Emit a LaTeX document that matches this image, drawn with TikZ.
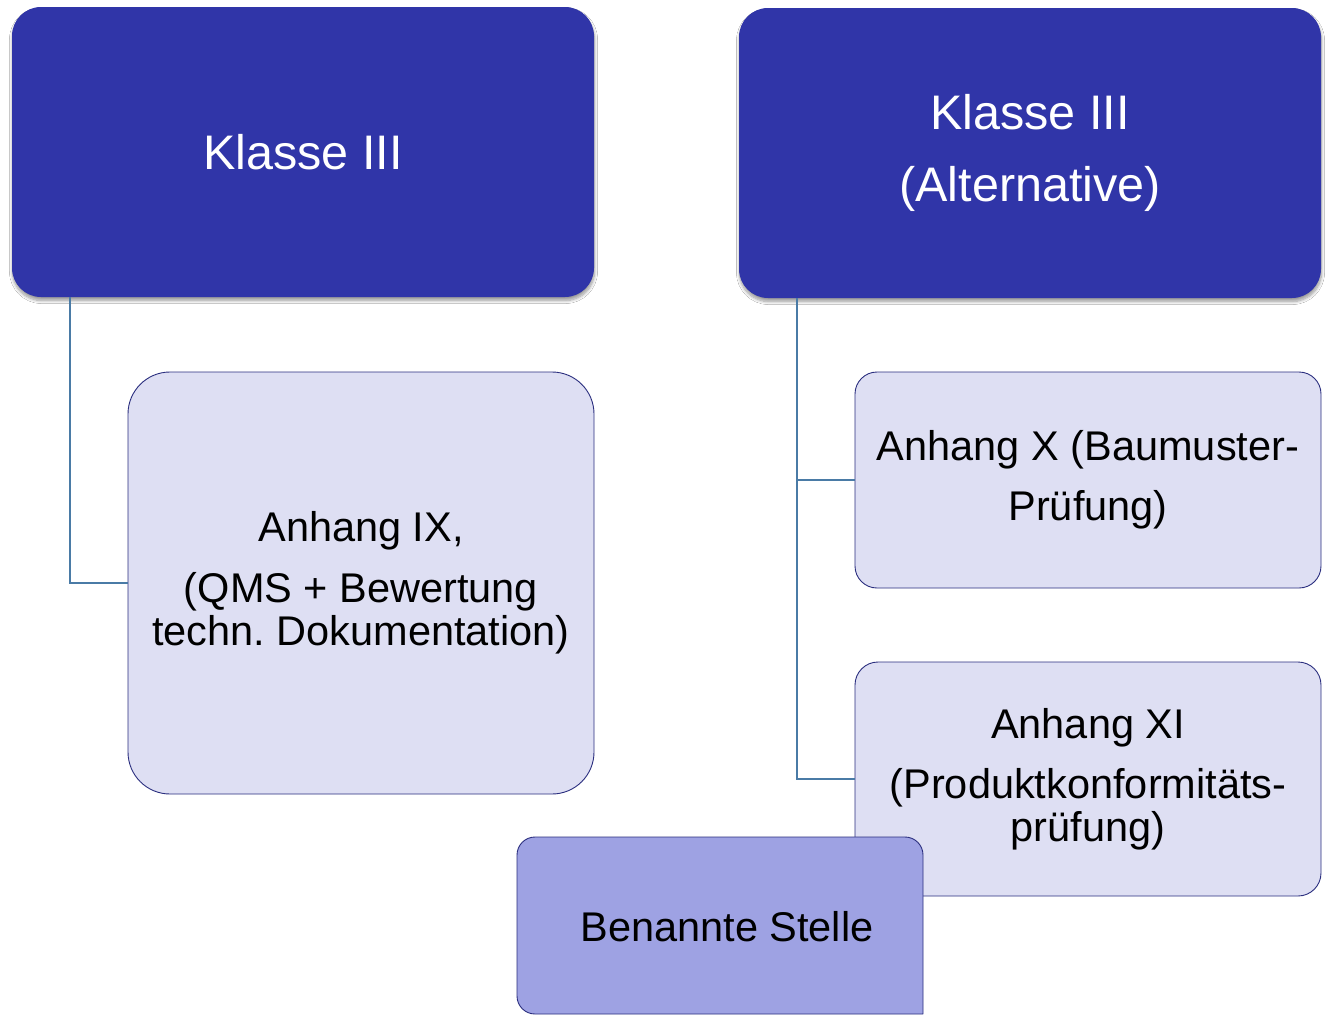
\documentclass[tikz,border=0pt]{standalone}
\usepackage{fontspec}
\setmainfont{Liberation Sans}
\frenchspacing
\usetikzlibrary{calc,shadows.blur}
\definecolor{darkbox}{HTML}{3035A8}
\definecolor{lightbox}{HTML}{DEDFF3}
\definecolor{midbox}{HTML}{9EA2E3}
\definecolor{navy}{HTML}{2B2F7F}
\definecolor{conncol}{HTML}{4A7BA6}
\tikzset{
  titlebox/.style={fill=darkbox, draw=none, text=white, align=center,
    inner sep=0pt, outer sep=0pt, minimum width=582pt, minimum height=290pt,
    rounded corners=29pt,
    font=\fontsize{48.5}{52}\selectfont,
    blur shadow={shadow xshift=0.5pt, shadow yshift=-3.5pt, shadow opacity=40, shadow blur radius=3pt, shadow blur steps=8}},
  subbox/.style={fill=lightbox, draw=navy, line width=0.9pt, text=black, align=center,
    inner sep=0pt, outer sep=0pt, font=\fontsize{41.5}{43}\selectfont},
  conn/.style={draw=conncol, line width=1.8pt},
}
\begin{document}
\begin{tikzpicture}[x=1pt,y=-1pt]
\useasboundingbox[fill=white] (0,0) rectangle (1333,1015);
\node[titlebox] (k1) at (303,152) {Klasse III};
\node[titlebox] (k2) at (1030,153) {\raisebox{-2pt}{Klasse III}\\[20pt]\raisebox{-2pt}{(Alternative)}};
\node[subbox, minimum width=466pt, minimum height=422pt, rounded corners=42pt] (a9) at (361,583)
  {Anhang IX,\\[18pt](QMS + Bewertung\\techn. Dokumentation)};
\node[subbox, minimum width=466pt, minimum height=216pt, rounded corners=22pt] (a10) at (1088,480)
  {Anhang X (Baumuster-\\[17pt]Prüfung)};
\node[subbox, minimum width=466pt, minimum height=234pt, rounded corners=23pt] (a11) at (1088,779)
  {Anhang XI\\[17pt](Produktkonformitäts-\\prüfung)};
\draw[conn] ($(k1.south west)+(58,0)$) |- (a9.west);
\coordinate (r0) at ($(k2.south west)+(58,0)$);
\draw[conn] (r0) |- (a10.west);
\draw[conn] (r0) |- (a11.west);
\draw[fill=midbox, draw=navy, line width=0.9pt, rounded corners=18pt]
  (923,1014) -- (517,1014) -- (517,837) -- (923,837) -- (923,1014);
\node[font=\fontsize{41.5}{43}\selectfont, inner sep=0pt] (bs) at (727,927) {Benannte Stelle};
\end{tikzpicture}
\end{document}
